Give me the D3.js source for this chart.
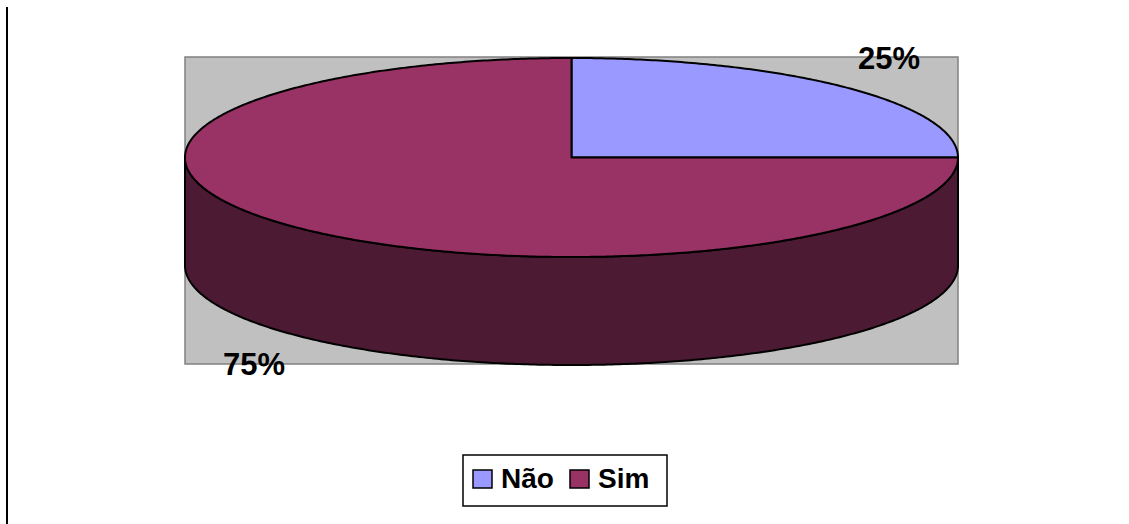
<!DOCTYPE html>
<html>
<head>
<meta charset="utf-8">
<script src="https://cdn.jsdelivr.net/npm/d3@7/dist/d3.min.js"></script>
<style>
  html, body { margin: 0; padding: 0; background: #fff; }
  svg { display: block; }
  text { font-family: Arial, "Liberation Sans", sans-serif; font-weight: bold; fill: #000; }
</style>
</head>
<body>
<svg id="chart" width="1129" height="524"></svg>
<script>
// Survey answers
const categories = ["Não", "Sim"];
const values = [25, 75];
const percentLabels = ["25%", "75%"];
const topColors = ["#9999FF", "#993366"];
const sideColors = ["#4D4D80", "#4D1A33"];

const svg = d3.select("#chart");

// Frame line on the left
svg.append("line")
  .attr("x1", 7).attr("x2", 7).attr("y1", 7).attr("y2", 524)
  .attr("stroke", "#000").attr("stroke-width", 2);

// Plot area
const plot = { x0: 185, x1: 958, y0: 57, y1: 364 };
svg.append("rect")
  .attr("x", plot.x0).attr("y", plot.y0)
  .attr("width", plot.x1 - plot.x0).attr("height", plot.y1 - plot.y0)
  .attr("fill", "#C0C0C0").attr("stroke", "#808080").attr("stroke-width", 1.5);

// Ellipse geometry of the tilted pie
const cx = 571.5, cy = 157.5, rx = 386.5, ry = 99.5, depth = 108;

// Unit-circle to screen scales
const sx = d3.scaleLinear().domain([-1, 1]).range([cx - rx, cx + rx]);
const sy = d3.scaleLinear().domain([-1, 1]).range([cy - ry, cy + ry]);
const px = a => sx(Math.sin(a));
const py = a => sy(-Math.cos(a));

const pie = d3.pie().sort(null).value(d => d)(values);

function arcPoints(a0, a1, dy) {
  const n = Math.max(2, Math.ceil(Math.abs(a1 - a0) / 0.01));
  return d3.range(n + 1).map(i => {
    const a = a0 + (a1 - a0) * i / n;
    return [px(a), py(a) + dy];
  });
}
const line = d3.line();

// Side walls: visible front half (angles between π/2 and 3π/2)
pie.forEach((s, i) => {
  const a0 = Math.max(s.startAngle, Math.PI / 2);
  const a1 = Math.min(s.endAngle, 3 * Math.PI / 2);
  if (a1 <= a0) return;
  const pts = arcPoints(a0, a1, 0).concat(arcPoints(a1, a0, depth));
  svg.append("path")
    .attr("d", line(pts) + "Z")
    .attr("fill", sideColors[i])
    .attr("stroke", "#000").attr("stroke-width", 2).attr("stroke-linejoin", "round");
});

// Top faces
pie.forEach((s, i) => {
  const pts = [[cx, cy]].concat(arcPoints(s.startAngle, s.endAngle, 0));
  svg.append("path")
    .attr("d", line(pts) + "Z")
    .attr("fill", topColors[i])
    .attr("stroke", "#000").attr("stroke-width", 2).attr("stroke-linejoin", "round");
});

// Percent labels
const labelPos = [[889, 69], [254, 375]];
pie.forEach((s, i) => {
  svg.append("text")
    .attr("x", labelPos[i][0]).attr("y", labelPos[i][1])
    .attr("text-anchor", "middle")
    .attr("font-size", 31)
    .text(percentLabels[i]);
});

// Legend
const legend = svg.append("g");
legend.append("rect")
  .attr("x", 463).attr("y", 455).attr("width", 204).attr("height", 51)
  .attr("fill", "#fff").attr("stroke", "#000").attr("stroke-width", 1.5);
const legendX = [473, 570];
categories.forEach((c, i) => {
  legend.append("rect")
    .attr("x", legendX[i]).attr("y", 470).attr("width", 19).attr("height", 18)
    .attr("fill", topColors[i]).attr("stroke", "#000").attr("stroke-width", 1.5);
  legend.append("text")
    .attr("x", legendX[i] + 28).attr("y", 488)
    .attr("font-size", 28)
    .text(c);
});
</script>
</body>
</html>
